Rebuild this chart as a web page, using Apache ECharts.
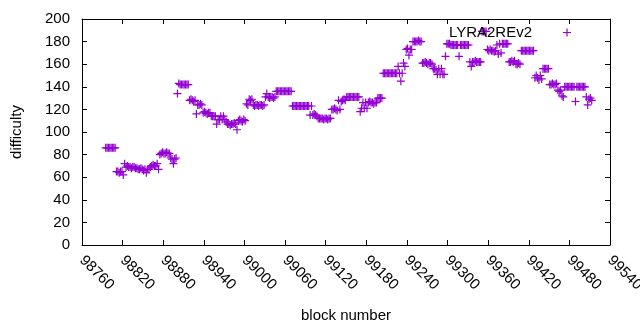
<!DOCTYPE html>
<html>
<head>
<meta charset="utf-8">
<title>LYRA2REv2 difficulty</title>
<script src="https://cdn.jsdelivr.net/npm/echarts@6/dist/echarts.min.js"></script>
<style>
  html, body { margin: 0; padding: 0; background: #fff; }
  #chart { width: 640px; height: 330px; }
</style>
</head>
<body>
<div id="chart"></div>
<script>
// block numbers: one sample every 2 blocks starting at firstBlock
var firstBlock = 98795;
var blockStep = 2;

// difficulty, one value per sample
var difficulty = [
  86, 86, 86, 86, 86, 86, 86, 86, 65, 65,
  64, 65, 65, 62, 72, 69, 70, 69, 69, 68,
  69, 69, 68, 68, 67, 67, 68, 67, 66, 67,
  64, 67, 67, 69, 70, 71, 70, 70, 72, 67,
  80, 81, 82, 81, 81, 82, 81, 81, 77, 76,
  72, 76, 77, 134, 143, 142, 142, 142, 142, 142,
  142, 142, 128, 129, 128, 127, 128, 116, 124, 124,
  125, 124, 117, 118, 117, 116, 117, 117, 114, 114,
  114, 114, 107, 111, 111, 114, 111, 114, 111, 109,
  107, 107, 106, 107, 107, 108, 107, 102, 110, 111,
  110, 109, 111, 110, 125, 124, 129, 128, 129, 124,
  123, 124, 124, 123, 124, 124, 123, 124, 131, 134,
  131, 130, 131, 131, 130, 131, 136, 136, 136, 136,
  136, 136, 136, 136, 136, 136, 136, 136, 123, 123,
  123, 123, 123, 123, 123, 123, 123, 123, 123, 123,
  123, 115, 123, 115, 116, 115, 114, 112, 112, 112,
  112, 111, 112, 112, 111, 112, 112, 120, 120, 121,
  120, 119, 128, 120, 127, 128, 129, 128, 131, 131,
  131, 131, 131, 131, 131, 131, 131, 131, 118, 121,
  126, 121, 126, 121, 126, 127, 126, 126, 125, 126,
  126, 130, 130, 130, 130, 152, 152, 152, 152, 152,
  152, 152, 152, 152, 152, 152, 158, 152, 145, 152,
  161, 158, 173, 174, 168, 173, 173, 180, 180, 180,
  180, 181, 180, 180, 161, 161, 162, 161, 160, 161,
  161, 160, 156, 156, 155, 151, 156, 151, 156, 151,
  151, 167, 178, 178, 178, 177, 177, 177, 177, 177,
  177, 167, 177, 177, 177, 177, 177, 177, 177, 162,
  158, 162, 162, 163, 162, 162, 162, 162, 189, 189,
  189, 189, 173, 172, 173, 172, 172, 171, 172, 177,
  169, 178, 170, 178, 178, 178, 178, 178, 162, 162,
  163, 162, 163, 160, 160, 161, 160, 172, 172, 172,
  172, 172, 172, 172, 172, 172, 172, 148, 150, 148,
  146, 150, 147, 156, 156, 156, 156, 156, 142, 142,
  143, 142, 142, 143, 137, 136, 137, 132, 131, 140,
  140, 140, 140, 140, 140, 140, 140, 127, 140, 140,
  140, 140, 140, 140, 140, 131, 124, 129, 130, 128
];

var xTicks = { min: 98760, max: 99540, step: 60 };
var yTicks = { min: 0, max: 200, step: 20 };

var seriesName = 'LYRA2REv2';
var plusSymbol = 'path://M0,3.4H8V4.6H0Z M3.4,0H4.6V8H3.4Z';

var points = [];
for (var i = 0; i < difficulty.length; i++) {
  points.push([firstBlock + i * blockStep, difficulty[i]]);
}

var font = 'Liberation Sans';
var fs = 15;
var tickStyle = { show: true, inside: true, length: 5, lineStyle: { color: '#000' } };
var lineStyle = { show: true, onZero: false, lineStyle: { color: '#000', width: 1 } };

var chart = echarts.init(document.getElementById('chart'));

var option = {
  animation: false,
  backgroundColor: '#fff',
  textStyle: { fontFamily: font },
  grid: {
    left: 82,
    right: 30,
    top: 19,
    bottom: 85,
    containLabel: false,
    outerBoundsMode: 'none',
    show: false
  },
  legend: {
    data: [seriesName],
    right: 64,
    top: 20,
    align: 'right',
    itemWidth: 8,
    itemHeight: 8,
    icon: plusSymbol,
    textStyle: { color: '#000', fontSize: fs, fontFamily: font, padding: [0, 26, 0, 0] }
  },
  xAxis: [{
    type: 'value',
    min: xTicks.min,
    max: xTicks.max,
    interval: xTicks.step,
    position: 'bottom',
    name: 'block number',
    nameLocation: 'middle',
    nameGap: 63,
    nameTextStyle: { color: '#000', fontSize: fs, fontFamily: font },
    axisLine: lineStyle,
    axisTick: tickStyle,
    axisLabel: {
      rotate: -45,
      margin: 13,
      color: '#000',
      fontSize: fs,
      fontFamily: font,
      showMinLabel: true,
      showMaxLabel: true,
      formatter: function (v) { return String(v); }
    },
    splitLine: { show: false }
  }, {
    type: 'value',
    min: xTicks.min,
    max: xTicks.max,
    interval: xTicks.step,
    position: 'top',
    axisLine: lineStyle,
    axisTick: tickStyle,
    axisLabel: { show: false },
    splitLine: { show: false }
  }],
  yAxis: [{
    type: 'value',
    min: yTicks.min,
    max: yTicks.max,
    interval: yTicks.step,
    position: 'left',
    name: 'difficulty',
    nameLocation: 'middle',
    nameRotate: 90,
    nameGap: 58,
    nameTextStyle: { color: '#000', fontSize: fs, fontFamily: font },
    axisLine: lineStyle,
    axisTick: tickStyle,
    axisLabel: { margin: 12, color: '#000', fontSize: fs, fontFamily: font },
    splitLine: { show: false }
  }, {
    type: 'value',
    min: yTicks.min,
    max: yTicks.max,
    interval: yTicks.step,
    position: 'right',
    axisLine: lineStyle,
    axisTick: tickStyle,
    axisLabel: { show: false },
    splitLine: { show: false }
  }],
  series: [{
    name: seriesName,
    type: 'scatter',
    xAxisIndex: 0,
    yAxisIndex: 0,
    symbol: plusSymbol,
    symbolSize: 8,
    itemStyle: { color: '#9400d3', opacity: 1 },
    emphasis: { disabled: true },
    data: points
  }]
};

chart.setOption(option);
</script>
</body>
</html>
